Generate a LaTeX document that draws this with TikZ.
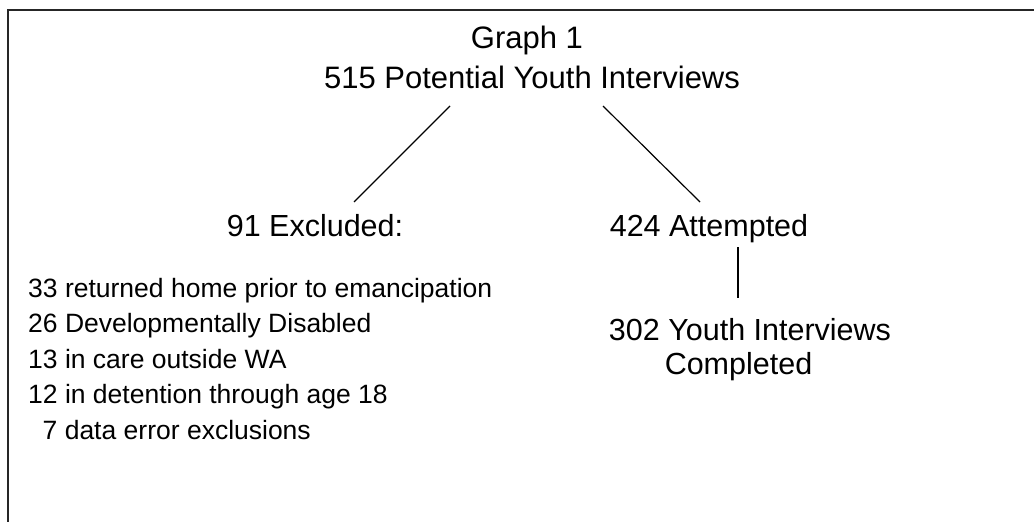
\documentclass[tikz,border=0pt]{standalone}
\usepackage{fontspec}
\setmainfont{Liberation Sans}
\begin{document}
\begin{tikzpicture}[x=1pt,y=-1pt,
  title/.style={inner sep=0pt,anchor=base,font=\fontsize{31}{36}\selectfont},
  big/.style={inner sep=0pt,anchor=base,font=\fontsize{30.5}{35}\selectfont},
  small/.style={inner sep=0pt,anchor=base west,font=\fontsize{26.5}{30}\selectfont},
  conn/.style={line width=1.2pt}]
\useasboundingbox (0,0) rectangle (1034,522);
\draw[line width=2pt,black!85] (1034,10) -- (8,10) -- (8,522);
\node[title] (t1) at (527,48) {Graph 1};
\node[title] (t2) at (532,88) {515 Potential Youth Interviews};
\node[big] (exc) at (315,236) {91 Excluded:};
\node[big] (att) at (709,236) {424 Attempted};
\node[big] (c1) at (750,340) {302 Youth Interviews};
\node[big] (c2) at (738.5,374) {Completed};
\node[small] (e1) at (28,297) {33 returned home prior to emancipation};
\node[small] (e2) at (28,332.5) {26 Developmentally Disabled};
\node[small] (e3) at (28,368) {13 in care outside WA};
\node[small] (e4) at (28,403.5) {12 in detention through age 18};
\node[small] (e5) at (42.5,439) {7 data error exclusions};
\coordinate (la) at (450,106);
\coordinate (lb) at (354,202);
\coordinate (ra) at (603,106);
\coordinate (rb) at (700,202);
\coordinate (va) at (738,247);
\coordinate (vb) at (738,298);
\draw[conn] (la) -- (lb);
\draw[conn] (ra) -- (rb);
\draw[conn] (va) -- (vb);
\end{tikzpicture}
\end{document}
